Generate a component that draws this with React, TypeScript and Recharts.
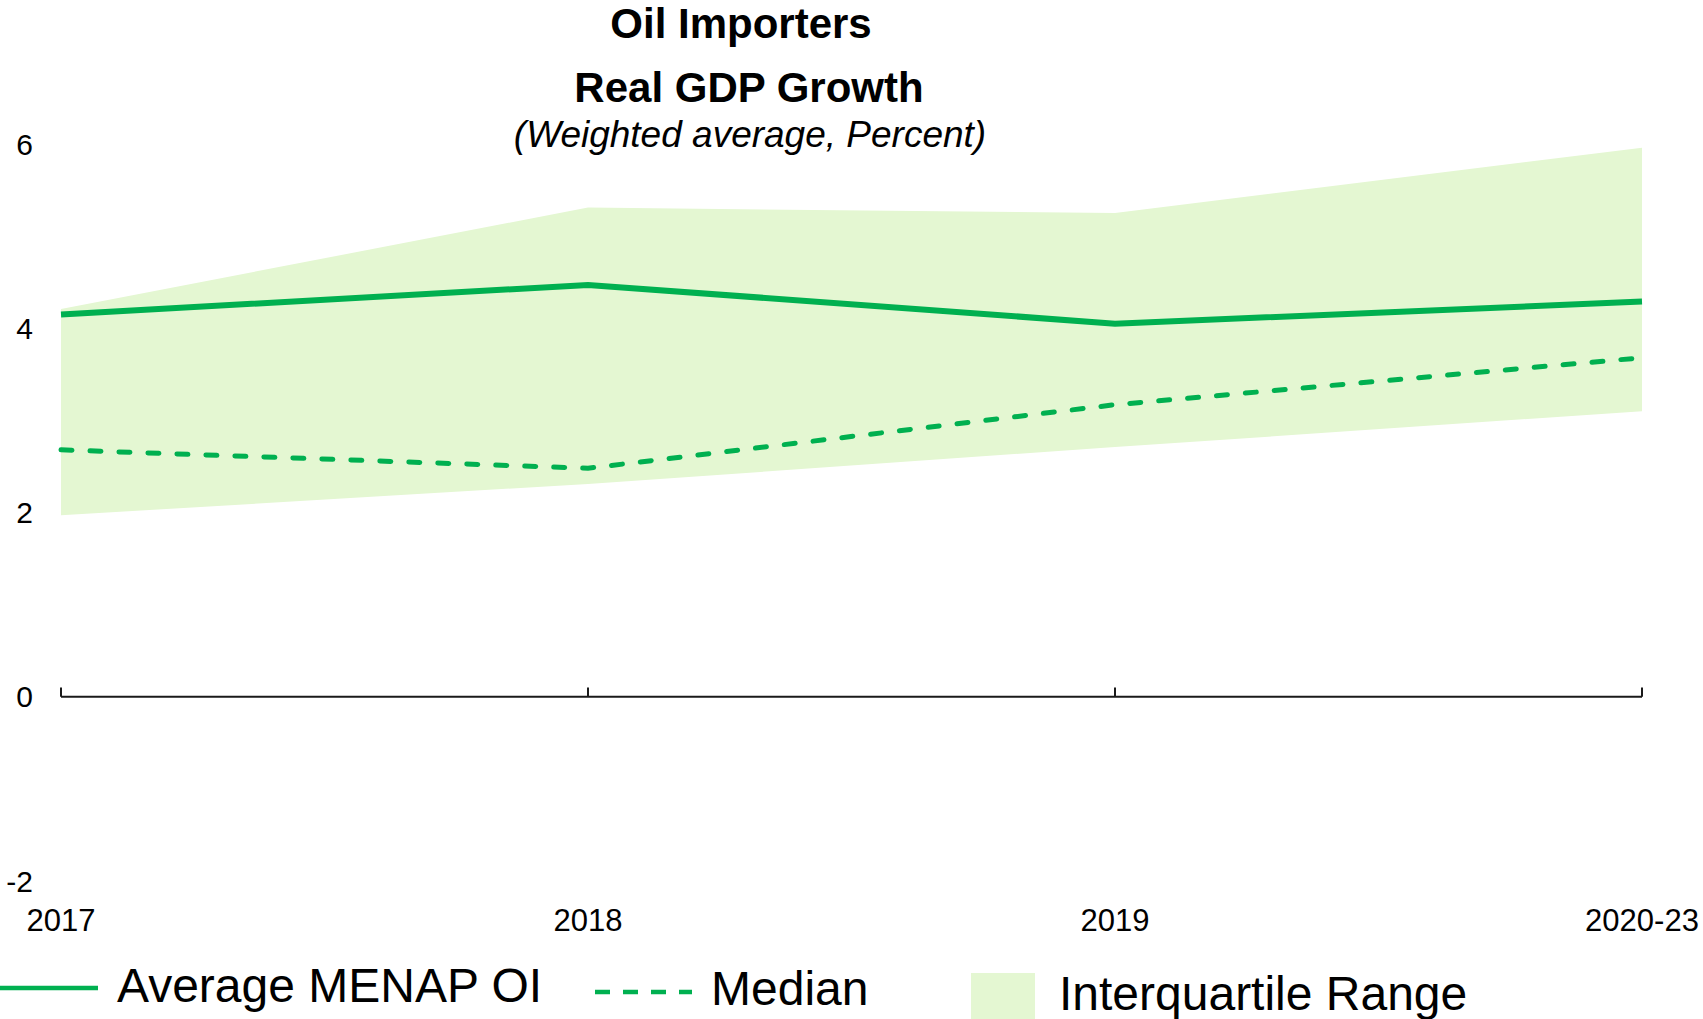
import React from 'react'
import { ComposedChart, Line, Area, XAxis, YAxis, ReferenceLine } from 'recharts'

const YEARS = ['2017', '2018', '2019', '2020-23']
const AVERAGE = [4.15, 4.47, 4.05, 4.29]
const MEDIAN = [2.68, 2.48, 3.17, 3.68]
const IQR_LOW = [1.97, 2.31, 2.71, 3.1]
const IQR_HIGH = [4.21, 5.31, 5.25, 5.96]
const Y_TICKS = [-2, 0, 2, 4, 6]

const GREEN = '#00B050'
const BAND = '#E4F7D2'
const FONT = '"Liberation Sans", Arial, sans-serif'

const data = YEARS.map((year, i) => ({
  year,
  avg: AVERAGE[i],
  median: MEDIAN[i],
  iqr: [IQR_LOW[i], IQR_HIGH[i]],
}))

function Label({ x, y, size, children, style }: any) {
  return (
    <div
      style={{
        position: 'absolute',
        left: x,
        top: y - size / 2,
        fontSize: size,
        lineHeight: `${size}px`,
        whiteSpace: 'nowrap',
        ...style,
      }}
    >
      {children}
    </div>
  )
}

function Title({ cx, cy, size, children, style }: any) {
  return (
    <Label x={cx - 500} y={cy} size={size} style={{ width: 1000, textAlign: 'center', ...style }}>
      {children}
    </Label>
  )
}

export default function App() {
  return (
    <div
      style={{
        position: 'absolute',
        left: 0,
        top: 0,
        width: 1703,
        height: 1019,
        background: '#fff',
        fontFamily: FONT,
        color: '#000',
        overflow: 'hidden',
      }}
    >
      <ComposedChart
        width={1703}
        height={1019}
        data={data}
        margin={{ top: 144, right: 61, bottom: 0, left: 0 }}
      >
        <XAxis
          dataKey="year"
          height={138}
          axisLine={false}
          tickLine={false}
          tickSize={0}
          tickMargin={28}
          interval={0}
          tick={{ fontSize: 31, fill: '#000', fontFamily: FONT }}
        />
        <YAxis
          type="number"
          domain={[-2, 6]}
          ticks={Y_TICKS}
          width={61}
          axisLine={false}
          tickLine={false}
          tickSize={0}
          tickMargin={28}
          tick={{ fontSize: 30, fill: '#000', fontFamily: FONT }}
        />
        <Area
          dataKey="iqr"
          type="linear"
          fill={BAND}
          fillOpacity={1}
          stroke="none"
          dot={false}
          activeDot={false}
          isAnimationActive={false}
        />
        <ReferenceLine y={0} stroke="#1a1a1a" strokeWidth={2} />
        {YEARS.map((year) => (
          <ReferenceLine
            key={year}
            segment={[
              { x: year, y: 0 },
              { x: year, y: 0.1 },
            ]}
            stroke="#1a1a1a"
            strokeWidth={2}
          />
        ))}
        <Line
          dataKey="median"
          type="linear"
          stroke={GREEN}
          strokeWidth={5}
          strokeDasharray="11 18"
          strokeLinecap="round"
          dot={false}
          activeDot={false}
          isAnimationActive={false}
        />
        <Line
          dataKey="avg"
          type="linear"
          stroke={GREEN}
          strokeWidth={6}
          dot={false}
          activeDot={false}
          isAnimationActive={false}
        />
      </ComposedChart>

      <Title cx={741} cy={24} size={42} style={{ fontWeight: 'bold' }}>
        Oil Importers
      </Title>
      <Title cx={749} cy={88} size={42} style={{ fontWeight: 'bold' }}>
        Real GDP Growth
      </Title>
      <Title cx={750} cy={134} size={37} style={{ fontStyle: 'italic' }}>
        (Weighted average, Percent)
      </Title>

      {/* legend */}
      <svg style={{ position: 'absolute', left: 0, top: 980 }} width={100} height={16}>
        <line x1={0} y1={8} x2={98} y2={8} stroke={GREEN} strokeWidth={4.5} />
      </svg>
      <Label x={117} y={986} size={48}>
        Average MENAP OI
      </Label>
      <svg style={{ position: 'absolute', left: 595, top: 984 }} width={100} height={16}>
        <line x1={0} y1={8} x2={97} y2={8} stroke={GREEN} strokeWidth={4.5} strokeDasharray="15 13" />
      </svg>
      <Label x={711} y={989} size={48}>
        Median
      </Label>
      <div
        style={{ position: 'absolute', left: 971, top: 973, width: 64, height: 46, background: BAND }}
      />
      <Label x={1059} y={994} size={48}>
        Interquartile Range
      </Label>
    </div>
  )
}
